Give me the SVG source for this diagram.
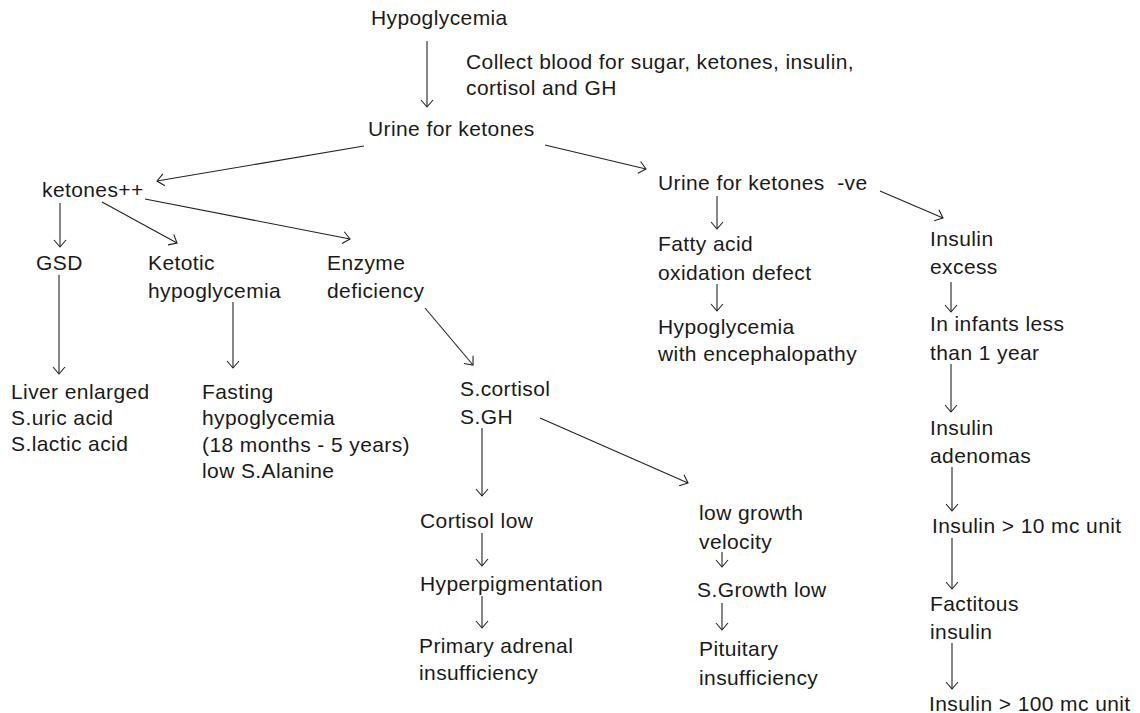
<svg xmlns="http://www.w3.org/2000/svg" width="1140" height="713" viewBox="0 0 1140 713">
<defs>
<marker id="ah" markerUnits="userSpaceOnUse" viewBox="-10 -8 12 16" markerWidth="12" markerHeight="16" refX="0" refY="0" orient="auto">
<path d="M-7,-6 L0,0 L-7,6" fill="none" stroke="#222" stroke-width="1.1"/>
</marker>
<style>
text{font-family:"Liberation Sans",Arial,sans-serif;font-size:21px;letter-spacing:0.4px;fill:#1a1a1a;white-space:pre}
.c line{stroke:#222;stroke-width:1.1;marker-end:url(#ah)}
</style>
</defs>
<rect width="1140" height="713" fill="#fff"/>
<g id="n-hypo"><text x="371" y="25">Hypoglycemia</text></g>
<g id="n-collect"><text x="466" y="69">Collect blood for sugar, ketones, insulin,</text><text x="466" y="95">cortisol and GH</text></g>
<g id="n-urine"><text x="368" y="136">Urine for ketones</text></g>
<g id="n-ketpos"><text x="42" y="197">ketones++</text></g>
<g id="n-ketneg"><text x="658" y="190" xml:space="preserve">Urine for ketones  -ve</text></g>
<g id="n-gsd"><text x="36" y="270">GSD</text></g>
<g id="n-ketotic"><text x="148" y="270">Ketotic</text><text x="148" y="298">hypoglycemia</text></g>
<g id="n-enzyme"><text x="327" y="270">Enzyme</text><text x="327" y="298">deficiency</text></g>
<g id="n-fatty"><text x="658" y="251">Fatty acid</text><text x="658" y="280">oxidation defect</text></g>
<g id="n-enceph"><text x="658" y="334">Hypoglycemia</text><text x="658" y="361">with encephalopathy</text></g>
<g id="n-insexcess"><text x="930" y="246">Insulin</text><text x="930" y="274">excess</text></g>
<g id="n-infants"><text x="930" y="331">In infants less</text><text x="930" y="360">than 1 year</text></g>
<g id="n-adenomas"><text x="930" y="435">Insulin</text><text x="930" y="463">adenomas</text></g>
<g id="n-ins10"><text x="932" y="533">Insulin &gt; 10 mc unit</text></g>
<g id="n-factitous"><text x="930" y="611">Factitous</text><text x="930" y="639">insulin</text></g>
<g id="n-ins100"><text x="929" y="711">Insulin &gt; 100 mc unit</text></g>
<g id="n-liver"><text x="11" y="399">Liver enlarged</text><text x="11" y="425">S.uric acid</text><text x="11" y="451">S.lactic acid</text></g>
<g id="n-fasting"><text x="202" y="399">Fasting</text><text x="202" y="425">hypoglycemia</text><text x="202" y="452">(18 months - 5 years)</text><text x="202" y="478">low S.Alanine</text></g>
<g id="n-scortisol"><text x="460" y="396">S.cortisol</text><text x="460" y="424">S.GH</text></g>
<g id="n-cortlow"><text x="420" y="528">Cortisol low</text></g>
<g id="n-hyperpig"><text x="420" y="591">Hyperpigmentation</text></g>
<g id="n-primary"><text x="419" y="653">Primary adrenal</text><text x="419" y="680">insufficiency</text></g>
<g id="n-lowgrowth"><text x="699" y="520">low growth</text><text x="699" y="549">velocity</text></g>
<g id="n-sgrowth"><text x="697" y="597">S.Growth low</text></g>
<g id="n-pituitary"><text x="699" y="656">Pituitary</text><text x="699" y="685">insufficiency</text></g>
<g id="connectors" class="c">
<line x1="427" y1="41" x2="427" y2="107"/>
<line x1="364" y1="146" x2="157" y2="181"/>
<line x1="545" y1="145" x2="646" y2="169"/>
<line x1="60" y1="203" x2="60" y2="247"/>
<line x1="102" y1="202" x2="177" y2="243"/>
<line x1="145" y1="199" x2="350" y2="239"/>
<line x1="59" y1="275" x2="59" y2="374"/>
<line x1="233" y1="302" x2="233" y2="368"/>
<line x1="425" y1="308" x2="473" y2="365"/>
<line x1="482" y1="428" x2="482" y2="496"/>
<line x1="540" y1="418" x2="688" y2="483"/>
<line x1="482" y1="533" x2="482" y2="566"/>
<line x1="482" y1="596" x2="482" y2="628"/>
<line x1="722" y1="552" x2="722" y2="567"/>
<line x1="722" y1="603" x2="722" y2="630"/>
<line x1="717" y1="196" x2="717" y2="229"/>
<line x1="717" y1="284" x2="717" y2="311"/>
<line x1="880" y1="191" x2="943" y2="218"/>
<line x1="951" y1="282" x2="951" y2="312"/>
<line x1="951" y1="364" x2="951" y2="412"/>
<line x1="952" y1="467" x2="952" y2="511"/>
<line x1="952" y1="538" x2="952" y2="589"/>
<line x1="952" y1="643" x2="952" y2="689"/>
</g>
</svg>
